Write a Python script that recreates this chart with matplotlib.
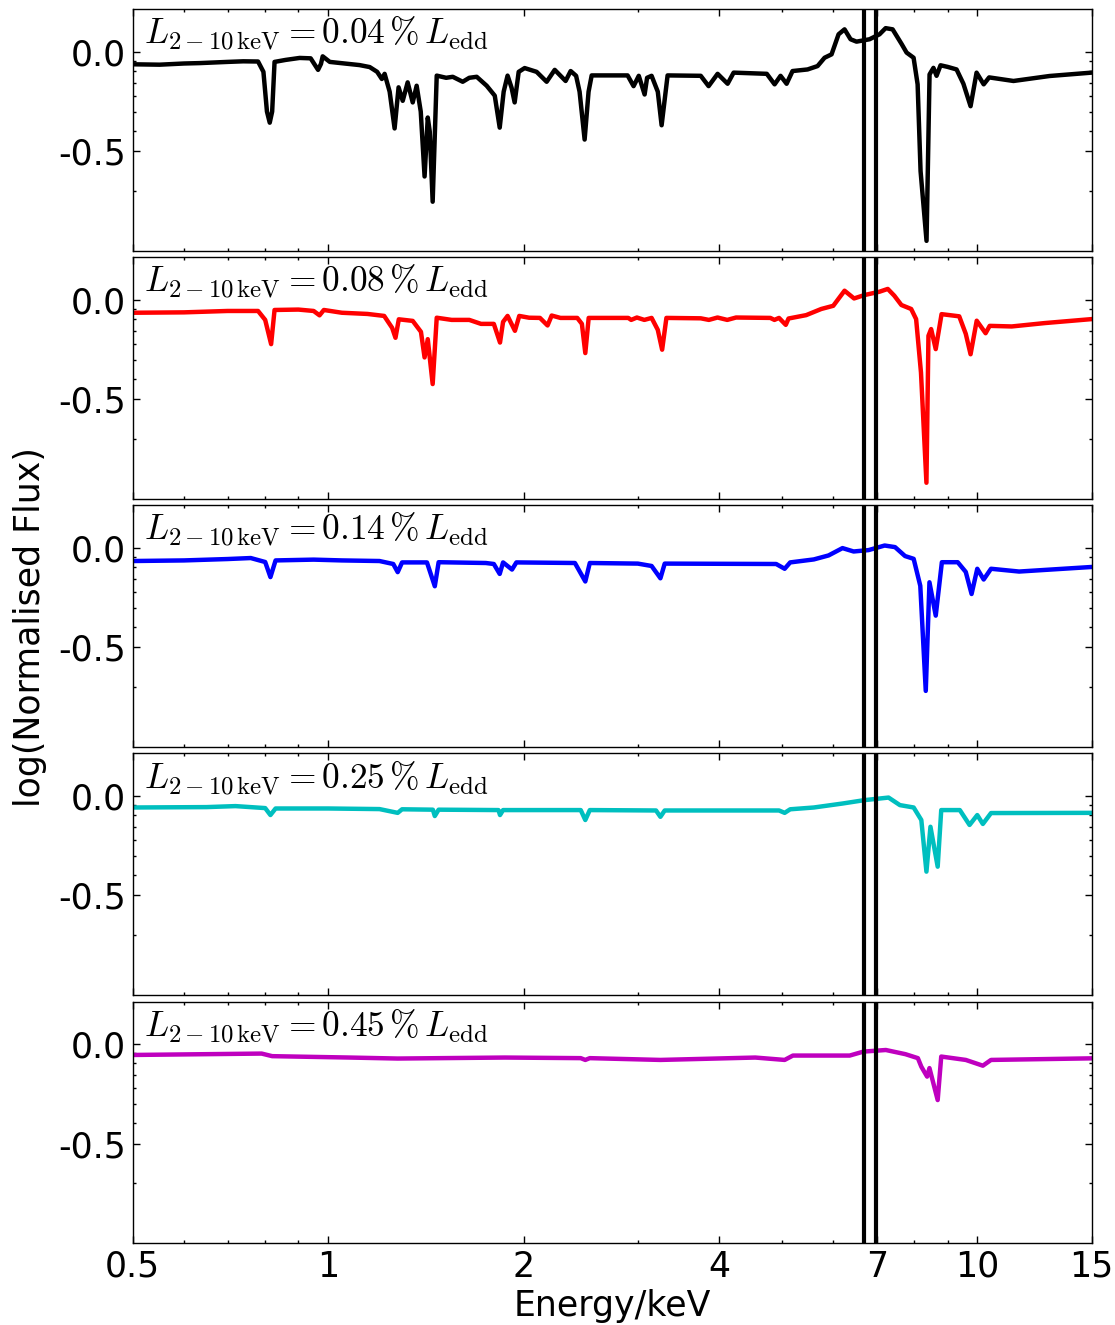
import matplotlib
matplotlib.use('Agg')
import numpy as np
from matplotlib import pyplot as plt
from matplotlib.ticker import FixedLocator, FixedFormatter, NullFormatter

plt.rcParams['mathtext.fontset'] = 'cm'
plt.rcParams['font.size'] = 24

# log10 of normalised flux, vs energy in keV
e_004 = [0.50, 0.55, 0.60, 0.634, 0.70, 0.74, 0.78, 0.795, 0.805, 0.813, 0.820, 0.827,
         0.86, 0.904, 0.94, 0.965, 0.975, 0.981, 1.006, 1.06, 1.118, 1.159, 1.19, 1.21,
         1.222, 1.244, 1.266, 1.284, 1.303, 1.326, 1.350, 1.369, 1.389, 1.408, 1.424,
         1.434, 1.449, 1.470, 1.52, 1.556, 1.612, 1.65, 1.694, 1.755, 1.806, 1.838, 1.864,
         1.890, 1.917, 1.938, 1.966, 2.008, 2.095, 2.171, 2.234, 2.322, 2.364, 2.41, 2.44,
         2.484, 2.519, 2.547, 2.715, 2.893, 2.955, 3.01, 3.073, 3.10, 3.15, 3.22, 3.264,
         3.334, 3.75, 3.856, 3.981, 4.125, 4.214, 4.74, 4.873, 4.977, 5.085, 5.193, 5.477,
         5.675, 5.818, 5.964, 6.114, 6.245, 6.38, 6.516, 6.823, 7.07, 7.225, 7.406, 7.65,
         7.782, 7.978, 8.093, 8.178, 8.353, 8.443, 8.56, 8.655, 8.779, 9.0, 9.292, 9.52,
         9.765, 9.975, 10.23, 10.43, 11.37, 12.92, 15.0]
f_004 = [-0.062, -0.064, -0.058, -0.056, -0.050, -0.047, -0.048, -0.10, -0.30, -0.356, -0.30, -0.05,
         -0.040, -0.030, -0.032, -0.09, -0.06, -0.022, -0.050, -0.058, -0.066, -0.076, -0.10, -0.136,
         -0.11, -0.20, -0.385, -0.178, -0.246, -0.153, -0.254, -0.17, -0.30, -0.627, -0.33,
         -0.40, -0.754, -0.119, -0.13, -0.125, -0.15, -0.13, -0.125, -0.17, -0.22, -0.381, -0.20,
         -0.119, -0.18, -0.254, -0.10, -0.081, -0.10, -0.15, -0.09, -0.146, -0.096, -0.12, -0.20,
         -0.441, -0.20, -0.118, -0.118, -0.118, -0.172, -0.12, -0.214, -0.13, -0.12, -0.20, -0.369,
         -0.118, -0.12, -0.172, -0.11, -0.16, -0.104, -0.11, -0.163, -0.12, -0.16, -0.096, -0.088,
         -0.071, -0.029, -0.012, 0.089, 0.114, 0.064, 0.052, 0.064, 0.089, 0.12, 0.114, 0.039,
         -0.003, -0.029, -0.163, -0.6, -0.951, -0.113, -0.08, -0.12, -0.067, -0.075, -0.088, -0.16,
         -0.273, -0.104, -0.163, -0.128, -0.146, -0.121, -0.104]

e_008 = [0.50, 0.60, 0.70, 0.78, 0.80, 0.817, 0.827, 0.90, 0.95, 0.97, 0.985, 1.05, 1.15,
         1.22, 1.255, 1.27, 1.285, 1.35, 1.39, 1.408, 1.424, 1.449, 1.470, 1.55, 1.65, 1.72,
         1.80, 1.84, 1.86, 1.89, 1.94, 1.97, 2.04, 2.12, 2.178, 2.21, 2.28, 2.42, 2.46, 2.49,
         2.52, 2.90, 2.93, 2.99, 3.07, 3.15, 3.22, 3.27, 3.32, 3.75, 3.86, 3.98, 4.12, 4.25,
         4.8, 4.87, 4.95, 5.07, 5.12, 5.45, 5.75, 6.0, 6.245, 6.46, 6.70, 7.07, 7.28, 7.45,
         7.64, 7.91, 8.05, 8.19, 8.35, 8.41, 8.49, 8.63, 8.81, 9.38, 9.6, 9.765, 9.98, 10.3,
         10.45, 11.3, 12.7, 15.0]
f_008 = [-0.064, -0.062, -0.055, -0.055, -0.10, -0.222, -0.05, -0.048, -0.055, -0.077, -0.05, -0.064, -0.07,
         -0.08, -0.14, -0.19, -0.097, -0.105, -0.16, -0.289, -0.197, -0.423, -0.089, -0.10, -0.10, -0.12,
         -0.12, -0.214, -0.11, -0.08, -0.155, -0.08, -0.089, -0.09, -0.128, -0.078, -0.09, -0.09, -0.12, -0.267,
         -0.09, -0.09, -0.10, -0.088, -0.10, -0.09, -0.15, -0.25, -0.09, -0.092, -0.10, -0.088, -0.10, -0.088,
         -0.09, -0.10, -0.09, -0.125, -0.093, -0.076, -0.045, -0.029, 0.047, 0.008, 0.025, 0.042, 0.056, 0.022,
         -0.025, -0.045, -0.096, -0.365, -0.92, -0.18, -0.146, -0.247, -0.071, -0.082, -0.17, -0.273, -0.104, -0.167,
         -0.13, -0.133, -0.116, -0.096]

e_014 = [0.50, 0.60, 0.70, 0.76, 0.80, 0.815, 0.83, 0.95, 1.05, 1.2, 1.26, 1.28, 1.30, 1.42,
         1.46, 1.48, 1.75, 1.80, 1.838, 1.86, 1.92, 1.95, 2.40, 2.49, 2.53, 3.0, 3.15, 3.25,
         3.30, 4.9, 5.05, 5.15, 5.6, 5.9, 6.2, 6.45, 6.8, 7.2, 7.47, 7.74, 7.98, 8.17, 8.33,
         8.44, 8.63, 8.82, 9.33, 9.6, 9.8, 10.0, 10.23, 10.5, 11.6, 15.0]
f_014 = [-0.065, -0.062, -0.055, -0.05, -0.07, -0.146, -0.062, -0.058, -0.062, -0.065, -0.08, -0.121, -0.072, -0.072,
         -0.192, -0.071, -0.075, -0.08, -0.13, -0.072, -0.108, -0.072, -0.075, -0.168, -0.075, -0.078, -0.09, -0.152,
         -0.078, -0.08, -0.104, -0.072, -0.057, -0.037, 0.0, -0.017, -0.01, 0.013, 0.005, -0.04, -0.054, -0.19, -0.719,
         -0.172, -0.34, -0.071, -0.071, -0.12, -0.231, -0.104, -0.158, -0.104, -0.118, -0.095]

e_025 = [0.50, 0.65, 0.72, 0.80, 0.815, 0.83, 1.0, 1.2, 1.28, 1.30, 1.45, 1.46, 1.48, 1.83,
         1.84, 1.86, 2.45, 2.49, 2.53, 3.2, 3.25, 3.30, 4.95, 5.05, 5.15, 5.6, 6.2, 6.7, 7.3,
         7.6, 7.98, 8.2, 8.35, 8.47, 8.69, 8.8, 9.4, 9.73, 10.0, 10.2, 10.5, 15.0]
f_025 = [-0.057, -0.055, -0.05, -0.06, -0.095, -0.062, -0.062, -0.065, -0.084, -0.066, -0.068, -0.10, -0.068, -0.07,
         -0.095, -0.07, -0.07, -0.12, -0.07, -0.072, -0.104, -0.072, -0.072, -0.084, -0.066, -0.057, -0.037, -0.02, -0.007,
         -0.045, -0.057, -0.12, -0.38, -0.154, -0.355, -0.07, -0.07, -0.145, -0.095, -0.14, -0.085, -0.084]

e_045 = [0.50, 0.65, 0.79, 0.82, 1.08, 1.28, 1.87, 2.45, 2.49, 2.53, 3.25, 4.55, 5.05, 5.2,
         6.36, 6.68, 7.23, 7.75, 8.1, 8.2, 8.37, 8.44, 8.69, 8.8, 9.6, 10.2, 10.5, 15.0]
f_045 = [-0.054, -0.05, -0.047, -0.06, -0.067, -0.072, -0.067, -0.07, -0.079, -0.07, -0.079, -0.067, -0.079, -0.057,
         -0.057, -0.037, -0.029, -0.05, -0.07, -0.113, -0.163, -0.12, -0.281, -0.062, -0.079, -0.108, -0.079, -0.071]

energies = [e_004, e_008, e_014, e_025, e_045]
fluxes = [f_004, f_008, f_014, f_025, f_045]
lum_labels = ['0.04', '0.08', '0.14', '0.25', '0.45']
colours = ['k', 'r', 'b', 'c', 'm']

fe_lines = [6.7, 6.97]
x_major = [0.5, 1, 2, 4, 7, 10, 15]
x_major_labels = ['0.5', '1', '2', '4', '7', '10', '15']
x_minor = [0.6, 0.7, 0.8, 0.9, 3, 5, 6, 8, 9]
y_major = [0.0, -0.5]
y_major_labels = ['0.0', '-0.5']
y_minor = list(np.log10([0.2, 0.4, 0.5, 0.6, 0.7, 0.8, 0.9]))

fig, axes = plt.subplots(5, 1, sharex=True, figsize=(11.15, 13.25), dpi=100)
fig.subplots_adjust(left=0.119, right=0.979, top=0.993, bottom=0.062, hspace=0.028)

for ax, e, f, lab, col in zip(axes, energies, fluxes, lum_labels, colours):
    ax.plot(e, f, color=col, lw=3.2)
    for el in fe_lines:
        ax.axvline(el, color='k', lw=3)
    ax.set_xscale('log')
    ax.set_xlim(0.5, 15)
    ax.set_ylim(-1.0, 0.215)
    ax.xaxis.set_major_locator(FixedLocator(x_major))
    ax.xaxis.set_major_formatter(FixedFormatter(x_major_labels))
    ax.xaxis.set_minor_locator(FixedLocator(x_minor))
    ax.xaxis.set_minor_formatter(NullFormatter())
    ax.yaxis.set_major_locator(FixedLocator(y_major))
    ax.yaxis.set_major_formatter(FixedFormatter(y_major_labels))
    ax.yaxis.set_minor_locator(FixedLocator(y_minor))
    ax.tick_params(which='both', direction='in', top=True, right=True, labelsize=25)
    ax.tick_params(which='major', length=5, width=1, pad=5)
    ax.tick_params(which='minor', length=2.5, width=1)
    for s in ax.spines.values():
        s.set_linewidth(1.0)
    ax.text(0.012, 0.975,
            r'$L_{2-10\,\mathrm{keV}}=%s\,\%%\,L_{\mathrm{edd}}$' % lab,
            transform=ax.transAxes, ha='left', va='top', fontsize=25.5)

axes[-1].set_xlabel('Energy/keV', fontsize=25, labelpad=4)
fig.text(0.027, 0.527, 'log(Normalised Flux)', rotation=90, ha='center', va='center',
         fontsize=25)

fig.savefig('out.png', dpi=100)
